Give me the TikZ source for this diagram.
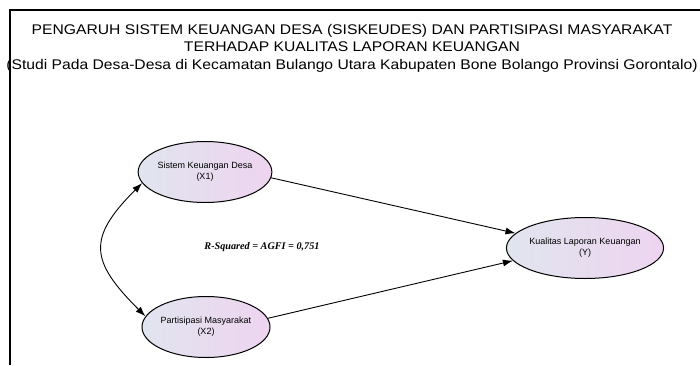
\documentclass[tikz,border=0pt]{standalone}
\usepackage{fontspec}
\setmainfont{Liberation Sans}
\newfontfamily\timesfont{Liberation Serif}
\newfontfamily\titlefont[FakeStretch=1.12]{Liberation Sans}
\usetikzlibrary{arrows.meta}
\usetikzlibrary{positioning,shapes.geometric}

\definecolor{varleft}{RGB}{224,229,238}
\definecolor{varright}{RGB}{238,212,240}

\begin{document}
\begin{tikzpicture} [x=1pt,y=1pt,-{Latex[length=10pt,width=7pt]},line width=0.9pt]

  \tikzset{var/.style={ellipse,draw,line width=1pt,minimum width=122pt,minimum height=61pt,
      inner sep=0pt,left color=varleft,right color=varright,align=center,
      font=\fontsize{9}{11}\selectfont}}

  \useasboundingbox (0,0) rectangle (700,365);
  \draw[-,line width=1.5pt] (10,0) -- (10,355) -- (700,355);

  \node (title) [align=center,inner sep=0pt,font=\titlefont\fontsize{14}{17.5}\selectfont] at (352,317)
    {PENGARUH SISTEM KEUANGAN DESA (SISKEUDES) DAN PARTISIPASI MASYARAKAT\\
     TERHADAP KUALITAS LAPORAN KEUANGAN\\
     (Studi Pada Desa-Desa di Kecamatan Bulango Utara Kabupaten Bone Bolango Provinsi Gorontalo)};

  \node[var] (X1) at (205,193) {Sistem Keuangan Desa\\(X1)};
  \node[var] (X2) at (206,38) {Partisipasi Masyarakat\\(X2)};
  \node[var] (Y) at (585,117) {Kualitas Laporan Keuangan\\(Y)};

  \node (rsq) at (262,118) {\timesfont\bfseries\itshape\fontsize{10.2}{12}\selectfont R-Squared = AGFI = 0,751};

  \path
    (X1.355) edge (Y.168)
    (X2.8) edge (Y.190)
    (X1.190) edge [{Latex[length=10pt,width=7pt]}-{Latex[length=10pt,width=7pt]},
                   out=225,in=135,looseness=1.5] (X2.170);

\end{tikzpicture}
\end{document}
